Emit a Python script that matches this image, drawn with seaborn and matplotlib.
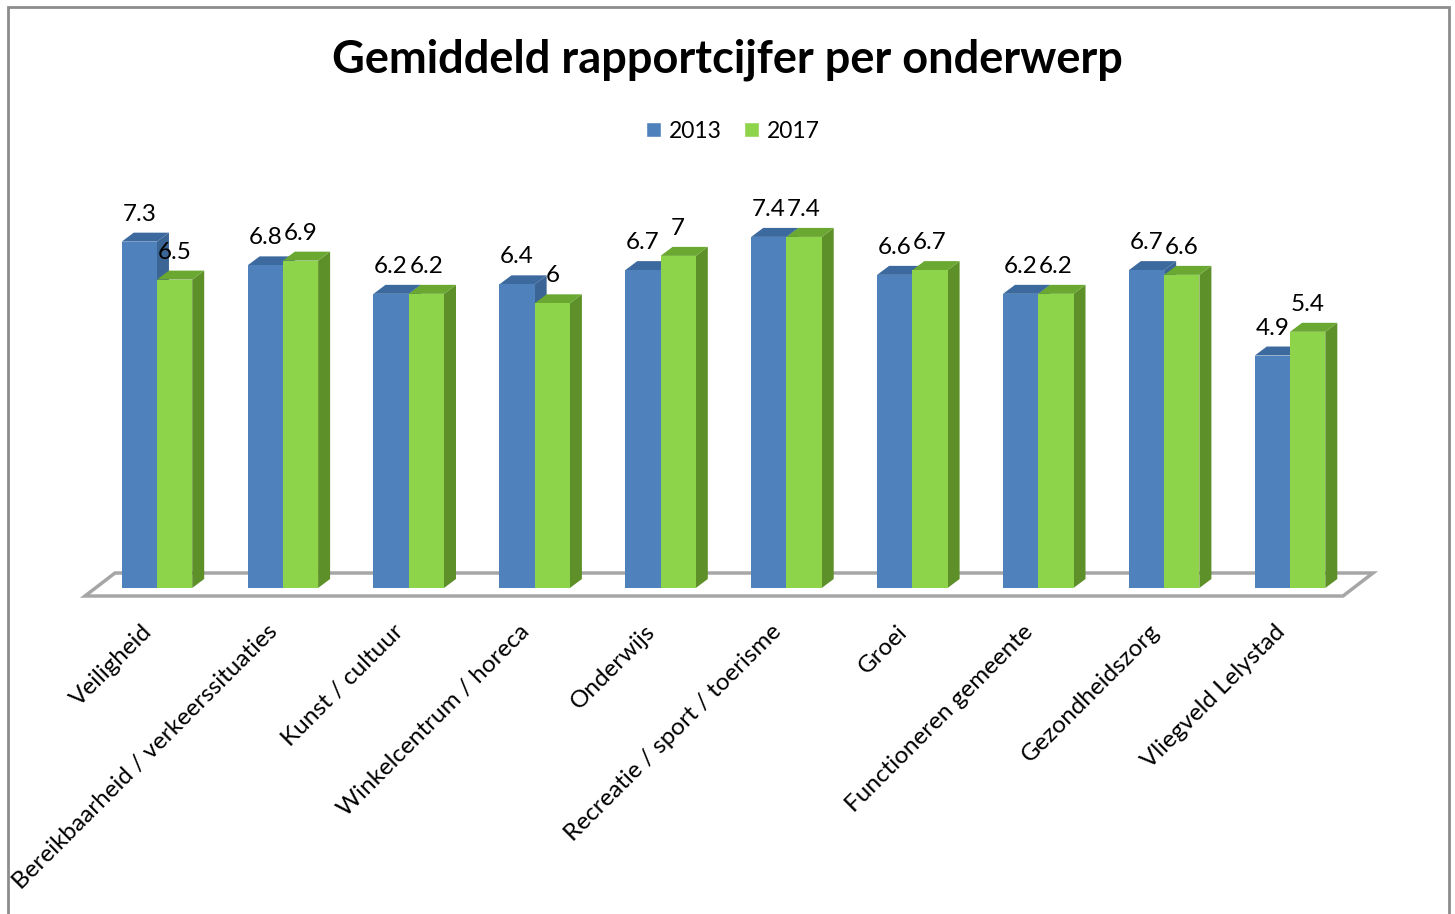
import matplotlib
matplotlib.use("Agg")
import matplotlib.pyplot as plt
from matplotlib.patches import Polygon, Rectangle
from matplotlib.transforms import ScaledTranslation
import pandas as pd
import seaborn as sns

categories = ["Veiligheid", "Bereikbaarheid / verkeerssituaties", "Kunst / cultuur",
              "Winkelcentrum / horeca", "Onderwijs", "Recreatie / sport / toerisme",
              "Groei", "Functioneren gemeente", "Gezondheidszorg", "Vliegveld Lelystad"]
years = ["2013", "2017"]
scores_2013 = [7.3, 6.8, 6.2, 6.4, 6.7, 7.4, 6.6, 6.2, 6.7, 4.9]
scores_2017 = [6.5, 6.9, 6.2, 6.0, 7.0, 7.4, 6.7, 6.2, 6.6, 5.4]
labels_2013 = ["7.3", "6.8", "6.2", "6.4", "6.7", "7.4", "6.6", "6.2", "6.7", "4.9"]
labels_2017 = ["6.5", "6.9", "6.2", "6", "7", "7.4", "6.7", "6.2", "6.6", "5.4"]

front = {"2013": "#4f81bd", "2017": "#8ed44a"}
side = {"2013": "#3b6594", "2017": "#5e9029"}
top = {"2013": "#3d6a9e", "2017": "#6aa832"}

df = pd.DataFrame({
    "onderwerp": categories * 2,
    "jaar": ["2013"] * 10 + ["2017"] * 10,
    "score": scores_2013 + scores_2017,
})

sns.set_style("white")
plt.rcParams["font.family"] = ["Lato", "DejaVu Sans"]
plt.rcParams["text.color"] = "black"
plt.rcParams["xtick.color"] = "black"

W, H = 1455, 914
fig = plt.figure(figsize=(W / 100, H / 100), dpi=100)
ax_l, ax_r, ax_b, ax_t = 94, 1353, 588, 161
ax = fig.add_axes([ax_l / W, 1 - ax_b / H, (ax_r - ax_l) / W, (ax_b - ax_t) / H])

sns.barplot(data=df, x="onderwerp", y="score", hue="jaar", hue_order=years,
            palette=front, width=0.56, gap=0, saturation=1, legend=False,
            edgecolor="none", ax=ax)
ax.set_xlim(-0.5, 9.5)
ax.set_ylim(0, 9)

# pixels -> data units
px_x = 10 / (ax_r - ax_l)
px_y = 9 / (ax_b - ax_t)
ddx, ddy = 12 * px_x, 9 * px_y

# floor of the 3d chart
fx0, fx1 = -0.5 - 9 * px_x, 9.5 - 10 * px_x
fy = -8 * px_y
fdx, fdy = 30 * px_x, 23 * px_y
ax.add_patch(Polygon([(fx0, fy), (fx1, fy), (fx1 + fdx, fy + fdy), (fx0 + fdx, fy + fdy)],
                     closed=True, facecolor="white", edgecolor="#a6a6a6", lw=2.5,
                     zorder=0.5, clip_on=False))

labels = {"2013": labels_2013, "2017": labels_2017}
for k, (yr, cont) in enumerate(zip(years, ax.containers)):
    z = 2 + k
    for i, bar in enumerate(cont):
        bar.set_zorder(z)
        x0 = bar.get_x()
        x1 = x0 + bar.get_width()
        h = bar.get_height()
        ax.add_patch(Polygon([(x1, 0), (x1 + ddx, ddy), (x1 + ddx, h + ddy), (x1, h)],
                             closed=True, facecolor=side[yr], edgecolor="none", zorder=z - 0.1))
        ax.add_patch(Polygon([(x0, h), (x0 + ddx, h + ddy), (x1 + ddx, h + ddy), (x1, h)],
                             closed=True, facecolor=top[yr], edgecolor="none", zorder=z - 0.1))
        ax.text((x0 + x1) / 2, h + 17 * px_y, labels[yr][i], ha="center", va="bottom",
                fontsize=17.5, color="black", zorder=10)

sns.despine(ax=ax, left=True, bottom=True)
ax.set_yticks([])
ax.set_xlabel("")
ax.set_ylabel("")
ax.tick_params(axis="x", length=0, pad=29)
ax.set_xticks(range(len(categories)))
ax.set_xticklabels(categories, rotation=45, ha="right", va="center",
                   rotation_mode="anchor", fontsize=17.5)
shift = ScaledTranslation(-6 / 72, 0, fig.dpi_scale_trans)
for lab in ax.get_xticklabels():
    lab.set_transform(lab.get_transform() + shift)
ax.patch.set_alpha(0)

fig.suptitle("Gemiddeld rapportcijfer per onderwerp", y=1 - 60 / H, va="center",
             fontsize=32.5, fontweight="bold", color="black")

handles = [Rectangle((0, 0), 1, 1, facecolor=front[y]) for y in years]
fig.legend(handles, years, loc="center", bbox_to_anchor=(733 / W, 1 - 131 / H), ncol=2,
           frameon=False, fontsize=16.5, handlelength=0.62, handleheight=0.62,
           handletextpad=0.35, columnspacing=1.0)

fig.add_artist(Rectangle((8 / W, -0.05), (1449 - 8) / W, 1 + 0.05 - 7 / H,
                         transform=fig.transFigure, fill=False, edgecolor="#8c8c8c",
                         lw=2, clip_on=False))

fig.savefig("out.png", dpi=100)
